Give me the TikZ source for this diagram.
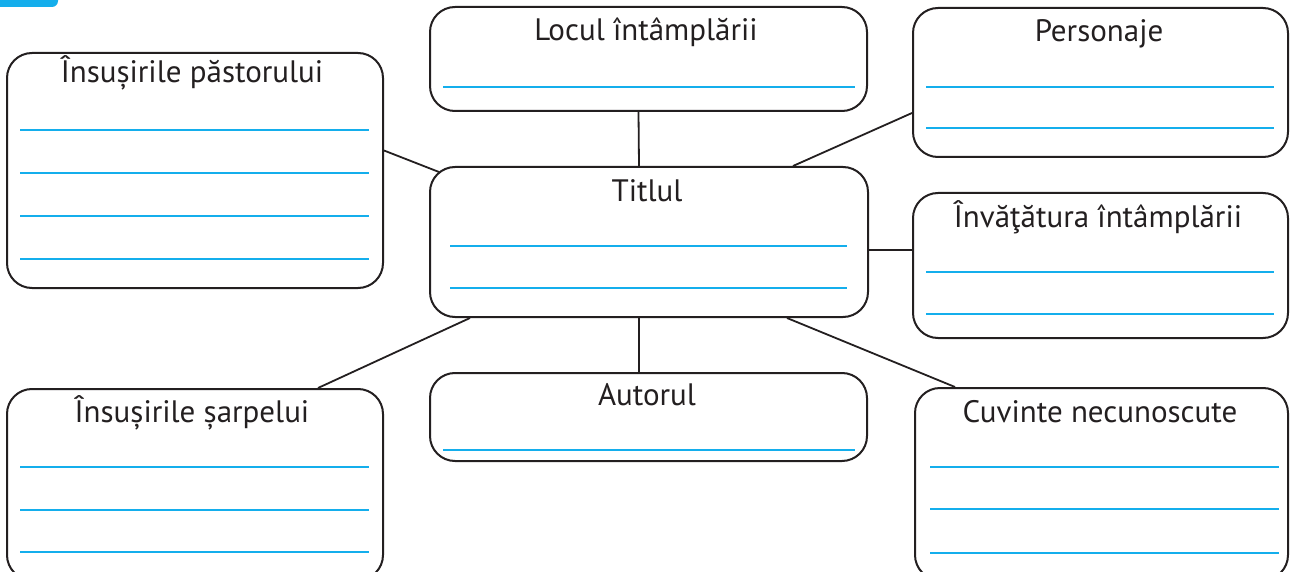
\documentclass[tikz,border=0pt]{standalone}
\usepackage{fontspec}
\setmainfont{PT Sans}
\definecolor{lineblue}{RGB}{20,174,236}
\definecolor{ink}{RGB}{35,31,32}
\begin{document}
\begin{tikzpicture}[x=1pt,y=-1pt,
  box/.style={draw=ink,line width=2pt,rounded corners=25pt,inner sep=0pt,fill=white},
  ttl/.style={anchor=base,inner sep=0pt,text=ink,font=\fontsize{31}{31}\selectfont},
  wline/.style={draw=lineblue,line width=1.8pt},
  conn/.style={draw=ink,line width=1.8pt}]
\useasboundingbox (0,0) rectangle (1290,572);
% badge
\fill[lineblue,rounded corners=6pt] (-20,-20) rectangle (58,7);
% boxes
\newcommand\mkbox[5]{\node[box,minimum width=#4-#2,minimum height=#5-#3] (#1) at ({(#2+#4)/2},{(#3+#5)/2}) {};}
\mkbox{past}{7}{53}{383}{288}
\mkbox{loc}{430}{7}{867}{111}
\mkbox{pers}{913}{8}{1288}{157}
\mkbox{tit}{430}{167}{868}{317}
\mkbox{inv}{913}{193}{1288}{338}
\mkbox{sarp}{7}{389}{383}{580}
\mkbox{aut}{430}{373}{867}{461}
\mkbox{cuv}{915}{388}{1288}{580}
% titles
\node[ttl] (pastT) at (192,83) {Însușirile păstorului};
\node[ttl] (locT) at (646,41) {Locul întâmplării};
\node[ttl] (persT) at (1099,42) {Personaje};
\node[ttl] (titT) at (647,202) {Titlul};
\node[ttl] (invT) at (1098,227) {Învăţătura întâmplării};
\node[ttl] (sarpT) at (192,422) {Însușirile șarpelui};
\node[ttl] (autT) at (647,405) {Autorul};
\node[ttl] (cuvT) at (1100,422) {Cuvinte necunoscute};
% writing lines
\foreach \y in {130,173,216,259} \draw[wline] (20,\y) -- (369,\y);
\draw[wline] (443,87) -- (855,87);
\foreach \y in {87,128} \draw[wline] (926,\y) -- (1274,\y);
\foreach \y in {246,288} \draw[wline] (450,\y) -- (847,\y);
\foreach \y in {272,314} \draw[wline] (926,\y) -- (1274,\y);
\foreach \y in {467,510,552} \draw[wline] (20,\y) -- (369,\y);
\draw[wline] (443,450) -- (855,450);
\foreach \y in {467,509,553} \draw[wline] (930,\y) -- (1279,\y);
% connectors
\draw[conn] ([xshift=-10pt]loc.south) -- ([xshift=-10pt]tit.north);
\draw[conn] ([yshift=20pt]past.east) -- ([shift={(10pt,-6pt)}]tit.north west);
\draw[conn] ([yshift=-30.5pt]pers.west) -- ([xshift=144pt]tit.north);
\draw[conn] ([yshift=-8pt]tit.east) -- ([yshift=-8pt]tit.east -| inv.west);
\draw[conn] ([xshift=-179pt]tit.south) -- ([xshift=123pt]sarp.north);
\draw[conn] ([xshift=-10pt]tit.south) -- ([xshift=-10pt]tit.south |- aut.north);
\draw[conn] ([xshift=138pt]tit.south) -- ([xshift=-146.5pt]cuv.north);
\end{tikzpicture}
\end{document}
